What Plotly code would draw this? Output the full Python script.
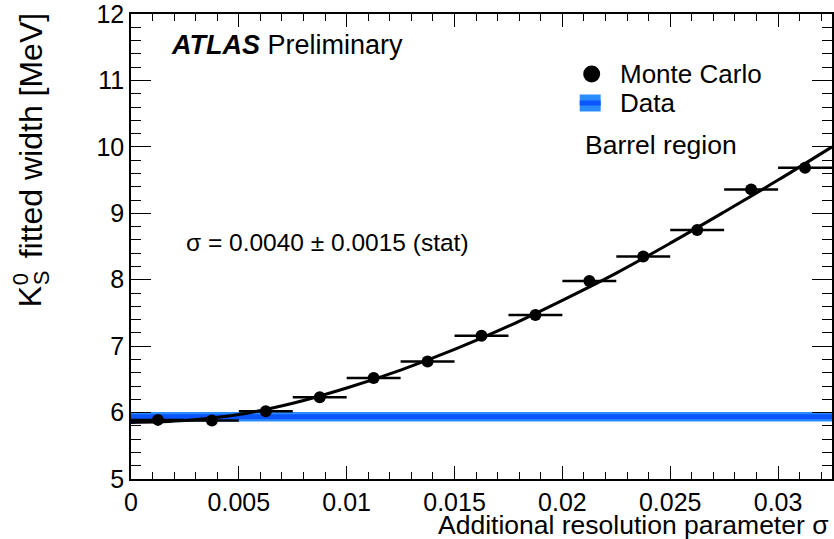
import plotly.graph_objects as go

# ---- data -------------------------------------------------------------
# additional resolution parameter (bin centres) and Monte Carlo fitted widths
sigma_bins = [0.00125, 0.00375, 0.00625, 0.00875, 0.01125, 0.01375, 0.01625,
              0.01875, 0.02125, 0.02375, 0.02625, 0.02875, 0.03125]
mc_width = [5.89, 5.88, 6.02, 6.23, 6.52, 6.77, 7.155,
            7.47, 7.98, 8.35, 8.75, 9.36, 9.685]
bin_half_width = [0.00125] * 13

# fitted curve through the Monte Carlo points
fit_sigma = [0.0, 0.0025, 0.005, 0.0075, 0.01, 0.0125, 0.015, 0.0175,
             0.02, 0.0225, 0.025, 0.0275, 0.03, 0.0325]
fit_width = [5.85, 5.88, 5.97, 6.14, 6.37, 6.64, 6.95, 7.30,
             7.69, 8.10, 8.55, 9.02, 9.50, 10.0]

# measured width in data with its uncertainty
data_width = 5.937
data_err = 0.07
data_range = [0.0, 0.0325]

x_ticks = [0, 0.005, 0.01, 0.015, 0.02, 0.025, 0.03]
x_ticktext = ["0", "0.005", "0.01", "0.015", "0.02", "0.025", "0.03"]
y_ticks = [5, 6, 7, 8, 9, 10, 11, 12]
y_ticktext = ["5", "6", "7", "8", "9", "10", "11", "12"]

# ---- layout geometry --------------------------------------------------
W, H = 834, 539
ML, MR, MT, MB = 131, 0, 14, 60
PW, PH = W - ML - MR, H - MT - MB
FONT = "Liberation Sans, Arial, Helvetica, sans-serif"
LIGHT_BLUE = "#2a8cff"
DARK_BLUE = "#0a55ff"


def px(x):
    return (x - ML) / PW


def py(y):
    return (H - MB - y) / PH


fig = go.Figure()

# data band and its central value
fig.add_trace(go.Scatter(
    x=data_range + data_range[::-1],
    y=[data_width + data_err] * 2 + [data_width - data_err] * 2,
    fill="toself", fillcolor=LIGHT_BLUE, line=dict(width=0),
    mode="lines", hoverinfo="skip", showlegend=False))
fig.add_trace(go.Scatter(
    x=data_range, y=[data_width, data_width], mode="lines",
    line=dict(color=DARK_BLUE, width=5), showlegend=False))

# fit curve
fig.add_trace(go.Scatter(
    x=fit_sigma, y=fit_width, mode="lines", line_shape="spline",
    line=dict(color="black", width=3), showlegend=False))

# Monte Carlo points
fig.add_trace(go.Scatter(
    x=sigma_bins, y=mc_width, mode="markers",
    marker=dict(color="black", size=12),
    error_x=dict(type="data", array=bin_half_width, color="black",
                 thickness=2.5, width=0),
    showlegend=False))

axis_common = dict(
    showline=True, linecolor="black", linewidth=1.5, mirror="allticks",
    ticks="inside", tickcolor="black", tickwidth=1.3,
    showgrid=False, zeroline=False, tickmode="array",
    ticklabeloverflow="allow",
    tickfont=dict(family=FONT, size=25, color="black"),
)

fig.update_xaxes(range=[0, 0.0325], tickvals=x_ticks,
                 ticktext=x_ticktext, ticklen=13,
                 minor=dict(ticks="inside", dtick=0.001, ticklen=7,
                            tickcolor="black", tickwidth=1.3, showgrid=False),
                 **axis_common)
fig.update_yaxes(range=[5, 12.0001], tickvals=y_ticks, ticktext=y_ticktext,
                 ticklen=20,
                 minor=dict(ticks="inside", dtick=0.2, ticklen=10,
                            tickcolor="black", tickwidth=1.3, showgrid=False),
                 **axis_common)

ann = []


def text(x, y, s, size, xanchor="left", yanchor="middle", angle=0):
    ann.append(dict(x=px(x), y=py(y), xref="paper", yref="paper", text=s,
                    showarrow=False, xanchor=xanchor, yanchor=yanchor,
                    textangle=angle,
                    font=dict(family=FONT, size=size, color="black")))


text(169, 45, "<b><i>ATLAS</i></b> Preliminary", 27)
text(619, 74, "Monte Carlo", 26)
text(619, 103, "Data", 26)
text(584, 145, "Barrel region", 26.5)
text(184, 243, "σ = 0.0040 ± 0.0015 (stat)", 24.5)
text(833, 525, "Additional resolution parameter σ", 26.5, xanchor="right")

# rotated y-axis title: K, stacked 0 / S, then the rest
text(30, 297, "K", 32, xanchor="center", angle=-90)
text(21, 279, "0", 22, xanchor="center", angle=-90)
text(41, 278, "S", 22, xanchor="center", angle=-90)
text(31, 136, "fitted width [MeV]", 32, xanchor="center", angle=-90)

shapes = [
    # legend symbols
    dict(type="circle", xref="paper", yref="paper",
         x0=px(584.5), x1=px(601.5), y0=py(82.5), y1=py(65.5),
         fillcolor="black", line=dict(width=0)),
    dict(type="rect", xref="paper", yref="paper",
         x0=px(581), x1=px(602), y0=py(111.5), y1=py(94.5),
         fillcolor=LIGHT_BLUE, line=dict(width=0)),
    dict(type="rect", xref="paper", yref="paper",
         x0=px(581), x1=px(602), y0=py(105.5), y1=py(100.5),
         fillcolor=DARK_BLUE, line=dict(width=0)),
]

fig.update_layout(
    width=W, height=H,
    margin=dict(l=ML, r=MR, t=MT, b=MB),
    paper_bgcolor="white", plot_bgcolor="white",
    showlegend=False,
    annotations=ann, shapes=shapes,
)

fig.write_html("out.html")
